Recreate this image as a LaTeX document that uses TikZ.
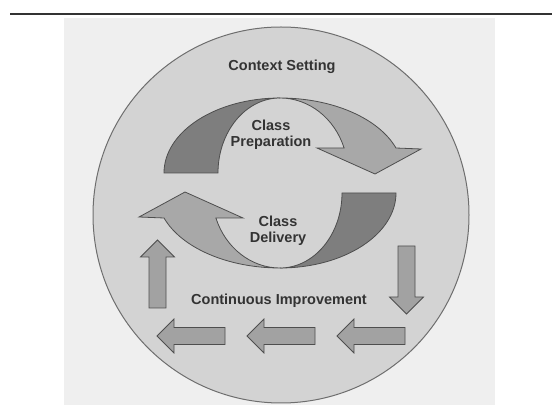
\documentclass[tikz,border=0pt]{standalone}
\usepackage{fontspec}
\setmainfont{Liberation Sans}
\usepackage{tikz}

\definecolor{paper}{HTML}{EFEFEF}
\definecolor{disc}{HTML}{D3D3D3}
\definecolor{rim}{HTML}{6E6E6E}
\definecolor{darkpart}{HTML}{7E7E7E}
\definecolor{lightpart}{HTML}{A8A8A8}
\definecolor{stepfill}{HTML}{A2A2A2}
\definecolor{edge}{HTML}{4E4E4E}
\definecolor{ink}{HTML}{333333}

\tikzset{
  halfloop/.pic={
    % lighter half with the arrow head
    \filldraw[fill=lightpart,draw=edge,line width=.8] (0,75)
      arc[start angle=90,end angle=19.47,x radius=123,y radius=75]
      -- (141,24) -- (95,-1) -- (37,25) -- (64.1,25)
      arc[start angle=19.47,end angle=90,x radius=68,y radius=75] -- cycle;
    % darker half
    \filldraw[fill=darkpart,draw=edge,line width=.8] (-116,0)
      arc[start angle=180,end angle=90,x radius=116,y radius=75]
      arc[start angle=90,end angle=180,x radius=62,y radius=75] -- cycle;
  },
  blockarrow/.pic={
    \filldraw[fill=stepfill,draw=edge,line width=.8] (0,-8.5) -- (51,-8.5) -- (51,-17)
      -- (68,0) -- (51,17) -- (51,8.5) -- (0,8.5) -- cycle;
  }
}

\begin{document}
\begin{tikzpicture}[x=1pt,y=1pt,
  label/.style={font=\fontsize{14.5}{16}\selectfont\bfseries,text=ink,align=center,inner sep=0pt}]
  \useasboundingbox (0,0) rectangle (552,407);

  \draw[ink,line width=2] (10,393) -- (552,393);
  \fill[paper] (64,2) rectangle (495,389);
  \filldraw[fill=disc,draw=rim,line width=1] (281,192) circle (188);

  % the two curved arrows
  \pic at (280,234) {halfloop};
  \pic[rotate=180] at (280,214) {halfloop};

  % small steps round the bottom
  \pic[rotate=90] at (157.5,99) {blockarrow};
  \pic[rotate=-90] at (406.5,161) {blockarrow};
  \foreach \x in {225,315,405}{% left pointing row
    \pic[rotate=180] at (\x,71) {blockarrow};  }

  \node[label] (context) at (282,340) {Context Setting};
  \node[label] (prep) at (271,272) {Class\\Preparation};
  \node[label] (deliv) at (278,176) {Class\\Delivery};
  \node[label] (improve) at (279,106) {Continuous Improvement};
\end{tikzpicture}
\end{document}
